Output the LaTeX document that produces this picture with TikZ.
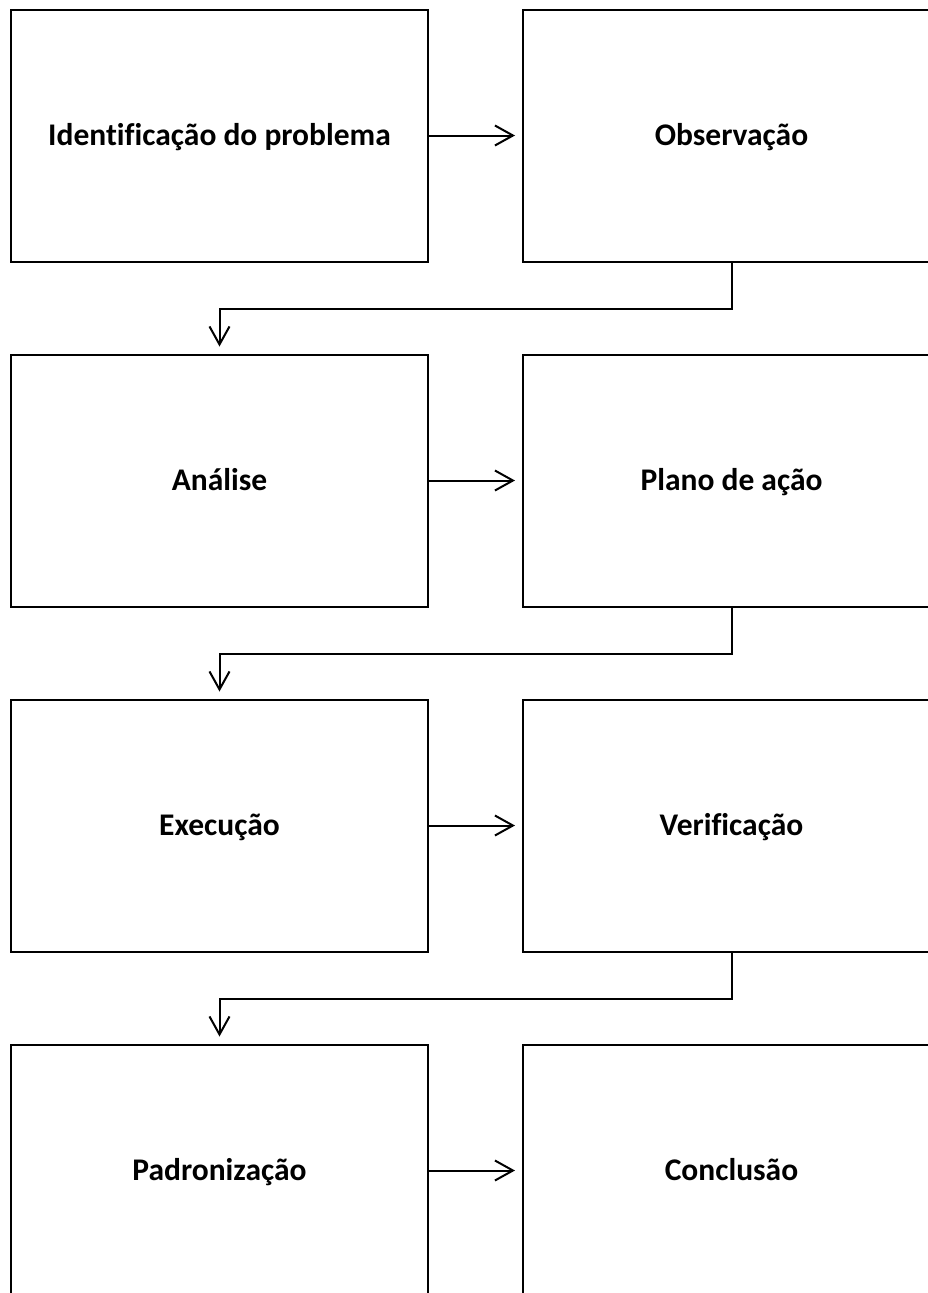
\documentclass[tikz,border=0pt]{standalone}
\usepackage{fontspec}
\setmainfont{Carlito}[Ligatures=CommonOff]
\usetikzlibrary{arrows.meta}
\begin{document}
\begin{tikzpicture}[x=1pt,y=-1pt,
  box/.style={draw=black,line width=2pt,minimum width=417pt,minimum height=252pt,inner sep=0pt,text height=26pt,text depth=6pt,font=\fontsize{31.5}{36}\selectfont\bfseries,anchor=north west},
  conn/.style={line width=2pt,-{Straight Barb[length=18pt,width=20pt,line width=2pt]},shorten >=7pt}]
\useasboundingbox (0,0) rectangle (928,1293);
\node[box] (a) at (10,8.5) {Identificação do problema};
\node[box] (b) at (522,8.5) {Observação};
\node[box] (c) at (10,353.5) {Análise};
\node[box] (d) at (522,353.5) {Plano de ação};
\node[box] (e) at (10,698.5) {Execução};
\node[box] (f) at (522,698.5) {Verificação};
\node[box] (g) at (10,1043.5) {Padronização};
\node[box] (h) at (522,1043.5) {Conclusão};
\draw[conn] (a.east) -- (b.west);
\draw[conn] (c.east) -- (d.west);
\draw[conn] (e.east) -- (f.west);
\draw[conn] (g.east) -- (h.west);
\draw[conn] (b.south) -- ++(0,46.5) -| (c.north);
\draw[conn] (d.south) -- ++(0,46.5) -| (e.north);
\draw[conn] (f.south) -- ++(0,46.5) -| (g.north);
\end{tikzpicture}
\end{document}
